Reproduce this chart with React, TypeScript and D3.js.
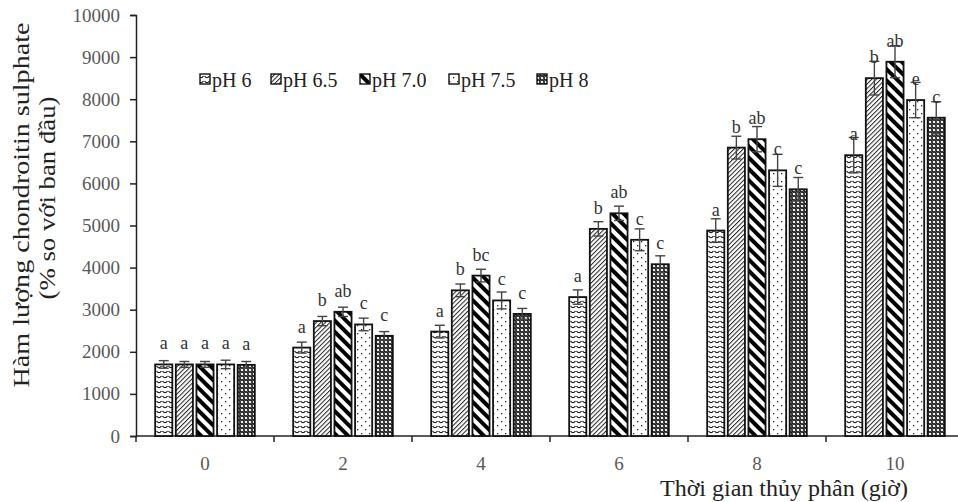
import { useEffect, useRef } from 'react'
import * as d3 from 'd3'

const times = ['0', '2', '4', '6', '8', '10']
const seriesNames = ['pH 6', 'pH 6.5', 'pH 7.0', 'pH 7.5', 'pH 8']

// values per series, one per time point
const ph6 = [1700, 2100, 2480, 3300, 4880, 6670]
const ph65 = [1700, 2730, 3460, 4920, 6850, 8500]
const ph70 = [1700, 2950, 3810, 5290, 7050, 8890]
const ph75 = [1700, 2650, 3220, 4660, 6310, 7980]
const ph8 = [1690, 2380, 2900, 4080, 5860, 7560]

const err6 = [90, 130, 150, 170, 280, 420]
const err65 = [70, 110, 150, 170, 270, 400]
const err70 = [70, 110, 150, 170, 300, 380]
const err75 = [100, 150, 200, 260, 380, 420]
const err8 = [80, 100, 130, 200, 280, 380]

const letters6 = ['a', 'a', 'a', 'a', 'a', 'a']
const letters65 = ['a', 'b', 'b', 'b', 'b', 'b']
const letters70 = ['a', 'ab', 'bc', 'ab', 'ab', 'ab']
const letters75 = ['a', 'c', 'c', 'c', 'c', 'e']
const letters8 = ['a', 'c', 'c', 'c', 'c', 'c']

const yTicks = [0, 1000, 2000, 3000, 4000, 5000, 6000, 7000, 8000, 9000, 10000]

const W = 958
const H = 502
// the x axis runs a little past the right edge of the picture
const margin = { top: 15, bottom: 66, left: 136 }
const axisRight = 964
const serif = '"Liberation Serif", "Times New Roman", serif'

const App = () => {
  const svgRef = useRef<SVGSVGElement | null>(null)

  useEffect(() => {
    if (!svgRef.current) return
    const svg = d3.select(svgRef.current)
    svg.selectAll('*').remove()

    const values = [ph6, ph65, ph70, ph75, ph8]
    const errs = [err6, err65, err70, err75, err8]
    const letters = [letters6, letters65, letters70, letters75, letters8]
    const patIds = ['p-wave', 'p-fine', 'p-wide', 'p-dots', 'p-mesh']

    // patterns
    const defs = svg.append('defs')
    const wave = defs.append('pattern').attr('id', 'p-wave').attr('patternUnits', 'userSpaceOnUse')
      .attr('width', 6).attr('height', 5)
    wave.append('rect').attr('width', 6).attr('height', 5).attr('fill', '#fff')
    wave.append('path').attr('d', 'M0.5,1 Q3,4.4 5.5,1').attr('fill', 'none').attr('stroke', '#111').attr('stroke-width', 1.1)

    const fine = defs.append('pattern').attr('id', 'p-fine').attr('patternUnits', 'userSpaceOnUse')
      .attr('width', 3.2).attr('height', 3.2).attr('patternTransform', 'rotate(45)')
    fine.append('rect').attr('width', 3.2).attr('height', 3.2).attr('fill', '#fff')
    fine.append('rect').attr('width', 1).attr('height', 3.2).attr('fill', '#222')

    const wide = defs.append('pattern').attr('id', 'p-wide').attr('patternUnits', 'userSpaceOnUse')
      .attr('width', 8).attr('height', 8).attr('patternTransform', 'rotate(-45)')
    wide.append('rect').attr('width', 8).attr('height', 8).attr('fill', '#fff')
    wide.append('rect').attr('width', 4).attr('height', 8).attr('fill', '#000')

    const dots = defs.append('pattern').attr('id', 'p-dots').attr('patternUnits', 'userSpaceOnUse')
      .attr('width', 8).attr('height', 8)
    dots.append('rect').attr('width', 8).attr('height', 8).attr('fill', '#fff')
    dots.append('rect').attr('x', 1).attr('y', 1).attr('width', 1.3).attr('height', 1.3).attr('fill', '#222')
    dots.append('rect').attr('x', 5).attr('y', 5).attr('width', 1.3).attr('height', 1.3).attr('fill', '#222')

    const mesh = defs.append('pattern').attr('id', 'p-mesh').attr('patternUnits', 'userSpaceOnUse')
      .attr('width', 4).attr('height', 4)
    mesh.append('rect').attr('width', 4).attr('height', 4).attr('fill', '#1a1a1a')
    mesh.append('circle').attr('cx', 2).attr('cy', 2).attr('r', 1.3).attr('fill', '#eee')
    mesh.append('circle').attr('cx', 0).attr('cy', 0).attr('r', 0.7).attr('fill', '#bbb')
    mesh.append('circle').attr('cx', 4).attr('cy', 4).attr('r', 0.7).attr('fill', '#bbb')

    const x0 = d3.scaleBand().domain(times).range([margin.left, axisRight]).padding(0)
    const x1 = d3.scaleBand().domain(seriesNames).range([0, x0.bandwidth()])
      .paddingInner(0.17).paddingOuter(0.93)
    const y = d3.scaleLinear().domain([0, 10000]).range([H - margin.bottom, margin.top])

    // Y axis
    const yAxis = svg.append('g')
      .attr('transform', `translate(${margin.left},0)`)
      .call(d3.axisLeft(y).tickValues(yTicks).tickSize(6).tickPadding(10).tickFormat(d3.format('d')))
    yAxis.select('.domain').attr('stroke', '#222').attr('stroke-width', 1.5)
    yAxis.selectAll('.tick line').attr('stroke', '#222').attr('stroke-width', 1.5)
    yAxis.selectAll('.tick text').attr('fill', '#595959').style('font-family', serif).style('font-size', '19px')

    // X axis
    const xAxis = svg.append('g')
      .attr('transform', `translate(0,${y(0)})`)
    xAxis.append('line').attr('x1', margin.left).attr('x2', axisRight)
      .attr('stroke', '#222').attr('stroke-width', 1.5)
    xAxis.selectAll('line.tk')
      .data(times)
      .enter()
      .append('line')
      .attr('class', 'tk')
      .attr('x1', d => x0(d) as number)
      .attr('x2', d => x0(d) as number)
      .attr('y1', 0).attr('y2', 6)
      .attr('stroke', '#222').attr('stroke-width', 1.5)
    xAxis.selectAll('text')
      .data(times)
      .enter()
      .append('text')
      .attr('x', d => (x0(d) as number) + x0.bandwidth() / 2)
      .attr('y', 34)
      .attr('text-anchor', 'middle')
      .attr('fill', '#595959')
      .style('font-family', serif).style('font-size', '19px')
      .text(d => d)

    // bars
    seriesNames.forEach((s, si) => {
      const g = svg.append('g')
      times.forEach((t, ti) => {
        const bx = (x0(t) as number) + (x1(s) as number)
        const v = values[si][ti]
        const e = errs[si][ti]
        const cx = bx + x1.bandwidth() / 2
        g.append('rect')
          .attr('x', bx).attr('y', y(v))
          .attr('width', x1.bandwidth()).attr('height', y(0) - y(v))
          .attr('fill', `url(#${patIds[si]})`)
          .attr('stroke', '#111').attr('stroke-width', 1.8)
        // error bar
        g.append('line').attr('x1', cx).attr('x2', cx).attr('y1', y(v - e)).attr('y2', y(v + e))
          .attr('stroke', '#444').attr('stroke-width', 1.4)
        g.append('line').attr('x1', cx - 5).attr('x2', cx + 5).attr('y1', y(v + e)).attr('y2', y(v + e))
          .attr('stroke', '#444').attr('stroke-width', 1.4)
        g.append('line').attr('x1', cx - 5).attr('x2', cx + 5).attr('y1', y(v - e)).attr('y2', y(v - e))
          .attr('stroke', '#444').attr('stroke-width', 1.4)
        g.append('text')
          .attr('x', cx).attr('y', y(v) - 15)
          .attr('text-anchor', 'middle')
          .attr('fill', '#333')
          .style('font-family', serif).style('font-size', '18px')
          .text(letters[si][ti])
      })
    })

    // legend
    const legendX = [200, 271, 360, 449, 537]
    const legend = svg.append('g')
    seriesNames.forEach((s, i) => {
      legend.append('rect')
        .attr('x', legendX[i]).attr('y', 74).attr('width', 10).attr('height', 10)
        .attr('fill', `url(#${patIds[i]})`).attr('stroke', '#111').attr('stroke-width', 1.4)
      legend.append('text')
        .attr('x', legendX[i] + 12).attr('y', 87)
        .attr('fill', '#222')
        .style('font-family', serif).style('font-size', '20px')
        .text(s)
    })

    // axis titles
    svg.append('text')
      .attr('transform', 'translate(29,205) rotate(-90)')
      .attr('text-anchor', 'middle')
      .attr('fill', '#222')
      .attr('textLength', 365)
      .attr('lengthAdjust', 'spacingAndGlyphs')
      .style('font-family', serif).style('font-size', '23px')
      .text('Hàm lượng chondroitin sulphate')
    svg.append('text')
      .attr('transform', 'translate(55,198) rotate(-90)')
      .attr('text-anchor', 'middle')
      .attr('fill', '#222')
      .attr('textLength', 203)
      .attr('lengthAdjust', 'spacingAndGlyphs')
      .style('font-family', serif).style('font-size', '23px')
      .text('(% so với ban đầu)')
    svg.append('text')
      .attr('x', 784).attr('y', 496)
      .attr('text-anchor', 'middle')
      .attr('fill', '#222')
      .style('font-family', serif).style('font-size', '24px')
      .text('Thời gian thủy phân (giờ)')
  }, [])

  return (
    <svg ref={svgRef} width={W} height={H}
      style={{ position: 'absolute', left: 0, top: 0, background: '#fff' }} />
  )
}

export default App
